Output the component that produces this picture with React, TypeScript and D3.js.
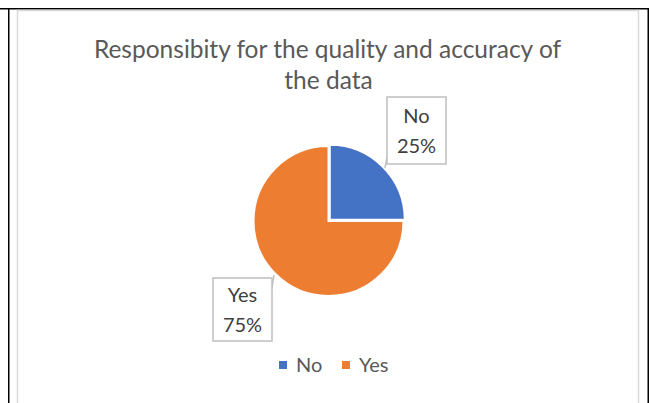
import React from "react";
import * as d3 from "d3";

const categories = ["No", "Yes"];
const values = [25, 75];
const colors = ["#4472C4", "#ED7D31"];
const titleLines = ["Responsibity for the quality and accuracy of", "the data"];

const W = 650;
const H = 403;
const FONT = "Lato, 'Liberation Sans', sans-serif";

export default function App() {
  const cx = 328.5;
  const cy = 221;
  const r = 75;
  const pie = d3.pie<number>().sort(null).value((d) => d)(values);
  const arc = d3.arc<d3.PieArcDatum<number>>().innerRadius(0).outerRadius(r);
  const total = d3.sum(values);

  // label boxes (layout)
  const boxes = [
    { x: 387, y: 97, w: 59, h: 67, lead: [[387, 157], [385, 168]] },
    { x: 213, y: 278, w: 59, h: 63, lead: [[271.5, 290], [274, 275]] },
  ];

  const legendX = [279, 342];

  return (
    <svg width={W} height={H} style={{ position: "absolute", left: 0, top: 0, display: "block" }}>
      <rect x={0} y={0} width={W} height={H} fill="#fff" />
      {/* table borders */}
      <line x1={0} y1={8.75} x2={649} y2={8.75} stroke="#000" strokeWidth={1.5} />
      <line x1={8.75} y1={8} x2={8.75} y2={H} stroke="#000" strokeWidth={1.5} />
      <line x1={648.25} y1={8} x2={648.25} y2={H} stroke="#000" strokeWidth={1.5} />
      {/* chart frame */}
      <rect x={17.5} y={10.5} width={621} height={420} fill="#fff" stroke="#D9D9D9" strokeWidth={1.5} />
      {/* title */}
      <text x={327.5} y={57.5} textAnchor="middle" fontFamily={FONT} fontSize={24.5} fill="#595959">
        {titleLines[0]}
      </text>
      <text x={328.5} y={88.5} textAnchor="middle" fontFamily={FONT} fontSize={24.5} fill="#595959">
        {titleLines[1]}
      </text>
      {/* pie */}
      {pie.map((p, i) => {
        const mid = (p.startAngle + p.endAngle) / 2;
        const off = i === 0 ? 1.8 : 0;
        const dx = Math.sin(mid) * off;
        const dy = -Math.cos(mid) * off;
        return (
          <path
            key={i}
            d={arc(p) || ""}
            transform={`translate(${cx + dx},${cy + dy})`}
            fill={colors[i]}
            stroke="#fff"
            strokeWidth={2}
          />
        );
      })}
      {/* data labels */}
      {pie.map((p, i) => {
        const b = boxes[i];
        const pct = Math.round((values[i] / total) * 100) + "%";
        return (
          <g key={"l" + i}>
            <line
              x1={b.lead[0][0]}
              y1={b.lead[0][1]}
              x2={b.lead[1][0]}
              y2={b.lead[1][1]}
              stroke="#BFBFBF"
              strokeWidth={1.5}
            />
            <rect x={b.x} y={b.y} width={b.w} height={b.h} fill="#fff" stroke="#BFBFBF" strokeWidth={1.5} />
            <text x={b.x + b.w / 2} y={b.y + b.h / 2 - 8} textAnchor="middle" fontFamily={FONT} fontSize={20} fill="#404040">
              {categories[i]}
            </text>
            <text x={b.x + b.w / 2} y={b.y + b.h / 2 + 22} textAnchor="middle" fontFamily={FONT} fontSize={20} fill="#404040">
              {pct}
            </text>
          </g>
        );
      })}
      {/* legend */}
      {categories.map((c, i) => (
        <g key={"lg" + i}>
          <rect x={legendX[i]} y={361} width={8} height={8} fill={colors[i]} />
          <text x={legendX[i] + 17} y={372} fontFamily={FONT} fontSize={20} fill="#595959">
            {c}
          </text>
        </g>
      ))}
    </svg>
  );
}
